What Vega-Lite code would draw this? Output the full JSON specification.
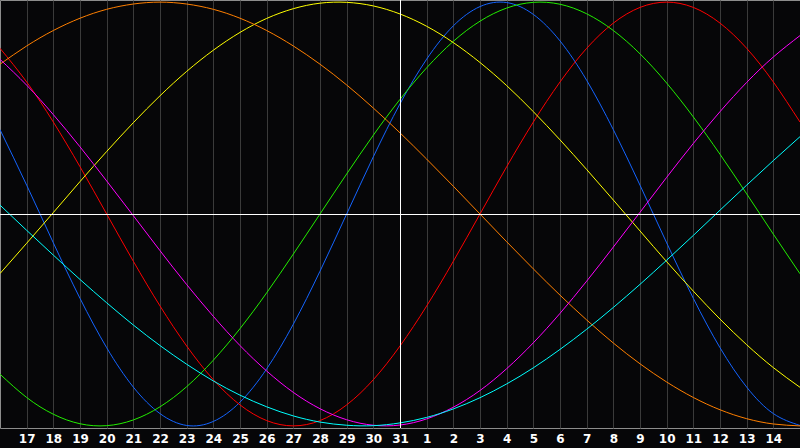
{
"$schema": "https://vega.github.io/schema/vega-lite/v6.json",
"width": 800,
"height": 428,
"autosize": "none",
"padding": {"left": 0, "top": 0, "right": 0, "bottom": 20},
"background": "#060608",
"config": {"view": {"stroke": "#8c8c8c", "strokeWidth": 1}},
"datasets": {
"curves": [
{"s":"blue","i":0,"v":0.398},{"s":"blue","i":1,"v":0.136},{"s":"blue","i":2,"v":-0.136},{"s":"blue","i":3,"v":-0.398},{"s":"blue","i":4,"v":-0.631},{"s":"blue","i":5,"v":-0.817},{"s":"blue","i":6,"v":-0.942},{"s":"blue","i":7,"v":-0.998},{"s":"blue","i":8,"v":-0.979},{"s":"blue","i":9,"v":-0.888},{"s":"blue","i":10,"v":-0.731},{"s":"blue","i":11,"v":-0.520},{"s":"blue","i":12,"v":-0.270},{"s":"blue","i":13,"v":0.000},{"s":"blue","i":14,"v":0.270},{"s":"blue","i":15,"v":0.520},{"s":"blue","i":16,"v":0.731},{"s":"blue","i":17,"v":0.888},{"s":"blue","i":18,"v":0.979},{"s":"blue","i":19,"v":0.998},{"s":"blue","i":20,"v":0.942},{"s":"blue","i":21,"v":0.817},{"s":"blue","i":22,"v":0.631},{"s":"blue","i":23,"v":0.398},{"s":"blue","i":24,"v":0.136},{"s":"blue","i":25,"v":-0.136},{"s":"blue","i":26,"v":-0.398},{"s":"blue","i":27,"v":-0.631},{"s":"blue","i":28,"v":-0.817},{"s":"blue","i":29,"v":-0.942},{"s":"blue","i":30,"v":-0.998},
{"s":"red","i":0,"v":0.782},{"s":"red","i":1,"v":0.623},{"s":"red","i":2,"v":0.434},{"s":"red","i":3,"v":0.223},{"s":"red","i":4,"v":0.0},{"s":"red","i":5,"v":-0.223},{"s":"red","i":6,"v":-0.434},{"s":"red","i":7,"v":-0.623},{"s":"red","i":8,"v":-0.782},{"s":"red","i":9,"v":-0.901},{"s":"red","i":10,"v":-0.975},{"s":"red","i":11,"v":-1.0},{"s":"red","i":12,"v":-0.975},{"s":"red","i":13,"v":-0.901},{"s":"red","i":14,"v":-0.782},{"s":"red","i":15,"v":-0.623},{"s":"red","i":16,"v":-0.434},{"s":"red","i":17,"v":-0.223},{"s":"red","i":18,"v":0.0},{"s":"red","i":19,"v":0.223},{"s":"red","i":20,"v":0.434},{"s":"red","i":21,"v":0.623},{"s":"red","i":22,"v":0.782},{"s":"red","i":23,"v":0.901},{"s":"red","i":24,"v":0.975},{"s":"red","i":25,"v":1.0},{"s":"red","i":26,"v":0.975},{"s":"red","i":27,"v":0.901},{"s":"red","i":28,"v":0.782},{"s":"red","i":29,"v":0.623},{"s":"red","i":30,"v":0.434},
{"s":"green","i":0,"v":-0.756},{"s":"green","i":1,"v":-0.866},{"s":"green","i":2,"v":-0.945},{"s":"green","i":3,"v":-0.990},{"s":"green","i":4,"v":-0.999},{"s":"green","i":5,"v":-0.972},{"s":"green","i":6,"v":-0.910},{"s":"green","i":7,"v":-0.815},{"s":"green","i":8,"v":-0.690},{"s":"green","i":9,"v":-0.541},{"s":"green","i":10,"v":-0.372},{"s":"green","i":11,"v":-0.189},{"s":"green","i":12,"v":0.0},{"s":"green","i":13,"v":0.189},{"s":"green","i":14,"v":0.372},{"s":"green","i":15,"v":0.541},{"s":"green","i":16,"v":0.690},{"s":"green","i":17,"v":0.815},{"s":"green","i":18,"v":0.910},{"s":"green","i":19,"v":0.972},{"s":"green","i":20,"v":0.999},{"s":"green","i":21,"v":0.990},{"s":"green","i":22,"v":0.945},{"s":"green","i":23,"v":0.866},{"s":"green","i":24,"v":0.756},{"s":"green","i":25,"v":0.618},{"s":"green","i":26,"v":0.458},{"s":"green","i":27,"v":0.282},{"s":"green","i":28,"v":0.095},{"s":"green","i":29,"v":-0.095},{"s":"green","i":30,"v":-0.282},
{"s":"yellow","i":0,"v":-0.281},{"s":"yellow","i":1,"v":-0.138},{"s":"yellow","i":2,"v":0.007},{"s":"yellow","i":3,"v":0.153},{"s":"yellow","i":4,"v":0.295},{"s":"yellow","i":5,"v":0.431},{"s":"yellow","i":6,"v":0.558},{"s":"yellow","i":7,"v":0.673},{"s":"yellow","i":8,"v":0.773},{"s":"yellow","i":9,"v":0.857},{"s":"yellow","i":10,"v":0.923},{"s":"yellow","i":11,"v":0.969},{"s":"yellow","i":12,"v":0.995},{"s":"yellow","i":13,"v":0.999},{"s":"yellow","i":14,"v":0.982},{"s":"yellow","i":15,"v":0.944},{"s":"yellow","i":16,"v":0.886},{"s":"yellow","i":17,"v":0.809},{"s":"yellow","i":18,"v":0.715},{"s":"yellow","i":19,"v":0.606},{"s":"yellow","i":20,"v":0.483},{"s":"yellow","i":21,"v":0.350},{"s":"yellow","i":22,"v":0.210},{"s":"yellow","i":23,"v":0.066},{"s":"yellow","i":24,"v":-0.080},{"s":"yellow","i":25,"v":-0.225},{"s":"yellow","i":26,"v":-0.364},{"s":"yellow","i":27,"v":-0.496},{"s":"yellow","i":28,"v":-0.617},{"s":"yellow","i":29,"v":-0.725},{"s":"yellow","i":30,"v":-0.818},
{"s":"orange","i":0,"v":0.707},{"s":"orange","i":1,"v":0.793},{"s":"orange","i":2,"v":0.866},{"s":"orange","i":3,"v":0.924},{"s":"orange","i":4,"v":0.966},{"s":"orange","i":5,"v":0.991},{"s":"orange","i":6,"v":1.0},{"s":"orange","i":7,"v":0.991},{"s":"orange","i":8,"v":0.966},{"s":"orange","i":9,"v":0.924},{"s":"orange","i":10,"v":0.866},{"s":"orange","i":11,"v":0.793},{"s":"orange","i":12,"v":0.707},{"s":"orange","i":13,"v":0.609},{"s":"orange","i":14,"v":0.5},{"s":"orange","i":15,"v":0.383},{"s":"orange","i":16,"v":0.259},{"s":"orange","i":17,"v":0.131},{"s":"orange","i":18,"v":0.0},{"s":"orange","i":19,"v":-0.131},{"s":"orange","i":20,"v":-0.259},{"s":"orange","i":21,"v":-0.383},{"s":"orange","i":22,"v":-0.5},{"s":"orange","i":23,"v":-0.609},{"s":"orange","i":24,"v":-0.707},{"s":"orange","i":25,"v":-0.793},{"s":"orange","i":26,"v":-0.866},{"s":"orange","i":27,"v":-0.924},{"s":"orange","i":28,"v":-0.966},{"s":"orange","i":29,"v":-0.991},{"s":"orange","i":30,"v":-1.0},
{"s":"magenta","i":0,"v":0.730},{"s":"magenta","i":1,"v":0.608},{"s":"magenta","i":2,"v":0.469},{"s":"magenta","i":3,"v":0.317},{"s":"magenta","i":4,"v":0.156},{"s":"magenta","i":5,"v":-0.008},{"s":"magenta","i":6,"v":-0.173},{"s":"magenta","i":7,"v":-0.333},{"s":"magenta","i":8,"v":-0.483},{"s":"magenta","i":9,"v":-0.621},{"s":"magenta","i":10,"v":-0.741},{"s":"magenta","i":11,"v":-0.842},{"s":"magenta","i":12,"v":-0.919},{"s":"magenta","i":13,"v":-0.971},{"s":"magenta","i":14,"v":-0.997},{"s":"magenta","i":15,"v":-0.996},{"s":"magenta","i":16,"v":-0.967},{"s":"magenta","i":17,"v":-0.912},{"s":"magenta","i":18,"v":-0.833},{"s":"magenta","i":19,"v":-0.730},{"s":"magenta","i":20,"v":-0.608},{"s":"magenta","i":21,"v":-0.469},{"s":"magenta","i":22,"v":-0.317},{"s":"magenta","i":23,"v":-0.156},{"s":"magenta","i":24,"v":0.008},{"s":"magenta","i":25,"v":0.173},{"s":"magenta","i":26,"v":0.333},{"s":"magenta","i":27,"v":0.483},{"s":"magenta","i":28,"v":0.621},{"s":"magenta","i":29,"v":0.741},{"s":"magenta","i":30,"v":0.842},
{"s":"cyan","i":0,"v":0.042},{"s":"cyan","i":1,"v":-0.077},{"s":"cyan","i":2,"v":-0.194},{"s":"cyan","i":3,"v":-0.309},{"s":"cyan","i":4,"v":-0.419},{"s":"cyan","i":5,"v":-0.524},{"s":"cyan","i":6,"v":-0.621},{"s":"cyan","i":7,"v":-0.709},{"s":"cyan","i":8,"v":-0.788},{"s":"cyan","i":9,"v":-0.855},{"s":"cyan","i":10,"v":-0.910},{"s":"cyan","i":11,"v":-0.953},{"s":"cyan","i":12,"v":-0.982},{"s":"cyan","i":13,"v":-0.997},{"s":"cyan","i":14,"v":-0.999},{"s":"cyan","i":15,"v":-0.986},{"s":"cyan","i":16,"v":-0.960},{"s":"cyan","i":17,"v":-0.920},{"s":"cyan","i":18,"v":-0.867},{"s":"cyan","i":19,"v":-0.802},{"s":"cyan","i":20,"v":-0.726},{"s":"cyan","i":21,"v":-0.639},{"s":"cyan","i":22,"v":-0.544},{"s":"cyan","i":23,"v":-0.441},{"s":"cyan","i":24,"v":-0.332},{"s":"cyan","i":25,"v":-0.218},{"s":"cyan","i":26,"v":-0.101},{"s":"cyan","i":27,"v":0.018},{"s":"cyan","i":28,"v":0.136},{"s":"cyan","i":29,"v":0.252},{"s":"cyan","i":30,"v":0.365}
]
},
"layer": [
{
"data": {"name": "curves"},
"mark": {"type": "line", "interpolate": "natural", "strokeWidth": 1},
"encoding": {
"x": {"field": "i", "type": "ordinal",
"scale": {"type": "point", "padding": 0, "domain": [0,1,2,3,4,5,6,7,8,9,10,11,12,13,14,15,16,17,18,19,20,21,22,23,24,25,26,27,28,29,30]},
"axis": {"title": null, "orient": "bottom", "values": [1,2,3,4,5,6,7,8,9,10,11,12,13,14,15,16,17,18,19,20,21,22,23,24,25,26,27,28,29],
"labelExpr": "datum.value <= 15 ? datum.value + 16 : datum.value - 15",
"grid": true, "gridColor": "#3a3a3a", "gridOpacity": 1, "gridWidth": 1,
"domain": false, "ticks": false, "labelPadding": 5,
"labelColor": "#ffffff", "labelFont": "DejaVu Sans", "labelFontWeight": "bold", "labelFontSize": 12,
"labelAngle": 0, "labelAlign": "center", "labelBaseline": "top", "labelOverlap": false, "labelFlush": false, "labelBound": false}},
"y": {"field": "v", "type": "quantitative",
"scale": {"domain": [-1.01, 1.01], "nice": false, "zero": false},
"axis": null},
"color": {"field": "s", "type": "nominal",
"scale": {"domain": ["blue","red","green","yellow","orange","magenta","cyan"],
"range": ["#1464ff","#ff0000","#22ee00","#ffff00","#ff7f00","#ff00ff","#00ffff"]},
"legend": null}
}
},
{
"data": {"values": [{"v": 0}]},
"mark": {"type": "rule", "color": "#ffffff", "strokeWidth": 1, "yOffset": 0.5},
"encoding": {"y": {"field": "v", "type": "quantitative"}}
},
{
"data": {"values": [{"i": 15}]},
"mark": {"type": "rule", "color": "#ffffff", "strokeWidth": 1, "xOffset": 0.5},
"encoding": {"x": {"field": "i", "type": "ordinal"}}
}
]
}
